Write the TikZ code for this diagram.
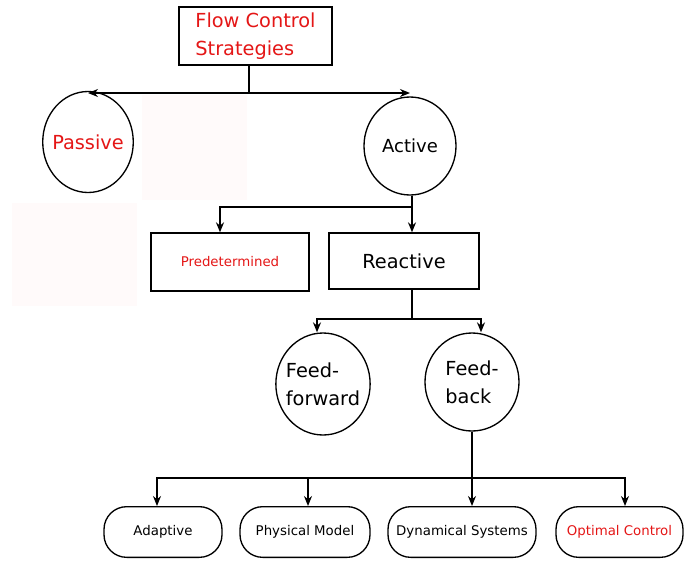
\documentclass[tikz,border=0pt]{standalone}
\usepackage{fontspec}
\setmainfont{DejaVu Sans}
\usetikzlibrary{shapes.geometric,arrows.meta}
\definecolor{labelred}{RGB}{228,22,22}
\definecolor{patchpink}{RGB}{255,250,250}

\tikzset{
  bubble/.style={ellipse, draw, line width=1pt, inner sep=0pt, align=left},
  sqbox/.style={rectangle, draw, line width=1pt, inner sep=0pt},
  pill/.style={rectangle, rounded corners=17pt, draw, line width=1pt, inner sep=0pt,
    minimum height=38pt, font=\fontsize{10}{12}\selectfont},
  link/.style={line width=1pt},
  arr/.style={link, -{Stealth[length=7.5pt,width=6pt]}},
  bigtext/.style={font=\fontsize{14.5}{21}\selectfont},
}

\begin{document}
\begin{tikzpicture}[x=0.75pt,y=0.75pt,yscale=-1,xscale=1]
\useasboundingbox (0,0) rectangle (685,561);

%Shape: faint patches
\fill[patchpink] (142,95) rectangle (247,200);
\fill[patchpink] (12,203) rectangle (137,306);

% Text Node
\node[sqbox, bigtext, align=left, text=labelred, minimum width=114.75pt, minimum height=43.5pt] (fcs) at (255.5,36) {Flow Control\\Strategies};
% Text Node
\node[bubble, bigtext, text=labelred, inner xsep=-2.8pt, minimum width=67.5pt, minimum height=75.75pt] (passive) at (88,142) {Passive};
\node[bubble, font=\fontsize{13.5}{16}\selectfont, minimum width=69pt, minimum height=73.5pt] (active) at (410,146) {Active};
% Text Node
\node[sqbox, font=\fontsize{10}{12}\selectfont, text=labelred, minimum width=118.5pt, minimum height=43.5pt] (pred) at (230,262) {Predetermined};
\node[sqbox, bigtext, minimum width=112.5pt, minimum height=42pt] (reac) at (404,261) {Reactive};
% Text Node
\node[bubble, bigtext, inner xsep=-2.8pt, minimum width=70.5pt, minimum height=76.5pt] (ff) at (323,384) {Feed-\\forward};
\node[bubble, bigtext, minimum width=70.5pt, minimum height=73.5pt] (fb) at (472,382) {Feed-\\back};
% Text Node
\node[pill, minimum width=88.5pt] (adap) at (163,532) {Adaptive};
\node[pill, minimum width=97.5pt] (phys) at (305,532) {Physical Model};
\node[pill, minimum width=111pt] (dyn) at (462,532) {Dynamical Systems};
\node[pill, minimum width=95.25pt, text=labelred] (opt) at (619.5,532) {Optimal Control};

%Straight Lines
\coordinate (topjoin) at (249,93);
\draw[link] (topjoin |- fcs.south) -- (topjoin);
\draw[arr] (topjoin) -- (topjoin -| passive.north);
\draw[arr] (topjoin) -- (topjoin -| active.north);

%Straight Lines
\coordinate (actjoin) at (412,207);
\coordinate (predin) at (220,207);
\draw[link] (actjoin |- active.south) -- (actjoin);
\draw[arr] (actjoin) -- (actjoin |- reac.north);
\draw[arr] (actjoin) -- (predin) -- (predin |- pred.north);

%Straight Lines
\coordinate (reacjoin) at (412,319);
\coordinate (ffin) at (317,319);
\coordinate (fbin) at (481,319);
\draw[link] (reacjoin |- reac.south) -- (reacjoin);
\draw[arr] (reacjoin) -- (ffin) -- (ffin |- ff.north);
\draw[arr] (reacjoin) -- (fbin) -- (fbin |- fb.north);

%Straight Lines
\coordinate (fbjoin) at (472,478);
\coordinate (adapin) at (157,478);
\coordinate (physin) at (308,478);
\coordinate (optin) at (625,478);
\draw[link] (fb.south) -- (fbjoin);
\draw[arr] (fbjoin) -- (fbjoin |- dyn.north);
\draw[arr] (fbjoin) -- (physin) -- (physin |- phys.north);
\draw[arr] (physin) -- (adapin) -- (adapin |- adap.north);
\draw[arr] (fbjoin) -- (optin) -- (optin |- opt.north);

\end{tikzpicture}
\end{document}
